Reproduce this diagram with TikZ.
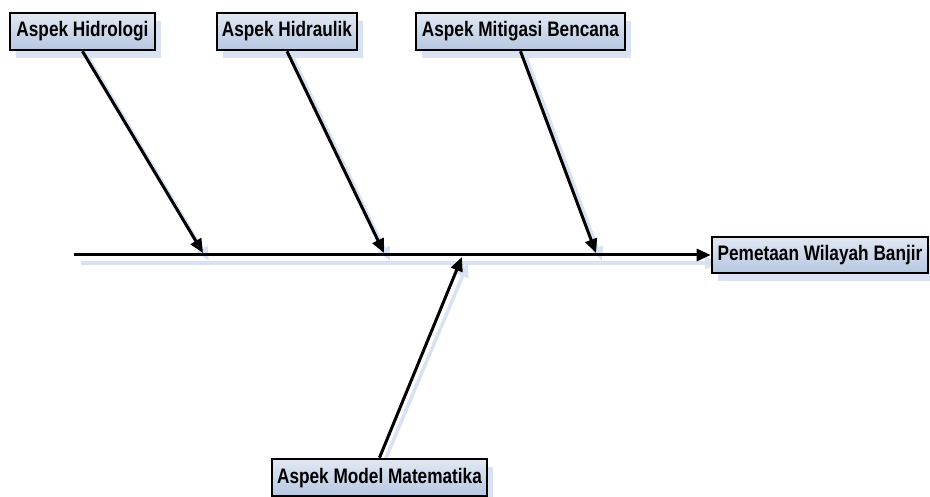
\documentclass[tikz,border=0pt]{standalone}
\usepackage{fontspec}
\newfontfamily\boxfont[FakeStretch=0.82]{Liberation Sans}
\usetikzlibrary{arrows.meta,shadows}
\definecolor{shadowblue}{HTML}{D8E2F2}
\definecolor{boxtop}{HTML}{E2E8F2}
\definecolor{boxbot}{HTML}{B6C7E1}
\tikzset{
  causebox/.style={draw=black, line width=2.6pt, top color=boxtop, bottom color=boxbot,
    minimum height=37pt, inner sep=0pt, text height=15pt, text depth=4pt,
    font=\boxfont\bfseries\fontsize{21pt}{23pt}\selectfont,
    drop shadow={shadow xshift=6pt, shadow yshift=-8pt, fill=shadowblue, opacity=1}},
  bone/.style={line width=3pt, black, -{Triangle[length=14pt,width=12pt]}},
  boneshadow/.style={line width=3.5pt, shadowblue, -{Triangle[length=14pt,width=12pt]}},
}
\begin{document}
\begin{tikzpicture}[x=1pt,y=-1pt]
\useasboundingbox (0,0) rectangle (930,497);
% coordinates on the spine
\coordinate (s) at (74,255);
\coordinate (e1) at (203,253);
\coordinate (e2) at (384,253);
\coordinate (e3) at (596,253);
\coordinate (e5) at (462,257);
% shadows of connectors
\draw[boneshadow] ([shift={(7,8)}]s) -- (719,263);
\draw[boneshadow] ([shift={(6,8)}]82.5,50) -- ([shift={(6,8)}]e1);
\draw[boneshadow] ([shift={(6,8)}]287,50) -- ([shift={(6,8)}]e2);
\draw[boneshadow] ([shift={(6,8)}]520.5,50) -- ([shift={(6,8)}]e3);
\draw[boneshadow] ([shift={(6,0)}]379.5,459) -- ([shift={(6,6)}]e5);
% boxes
\node[causebox, minimum width=145pt] (h1) at (82.5,31.5) {Aspek Hidrologi};
\node[causebox, minimum width=140pt] (h2) at (287,31.5) {Aspek Hidraulik};
\node[causebox, minimum width=209pt] (h3) at (520.5,31.5) {Aspek Mitigasi Bencana};
\node[causebox, minimum width=216pt, minimum height=36pt] (eff) at (820,255) {Pemetaan Wilayah Banjir};
\node[causebox, minimum width=215pt] (h5) at (379.5,477.5) {Aspek Model Matematika};
% connectors
\draw[bone] (s) -- (eff.west);
\draw[bone] (h1.south) -- (e1);
\draw[bone] (h2.south) -- (e2);
\draw[bone] (h3.south) -- (e3);
\draw[bone] (h5.north) -- (e5);
\end{tikzpicture}
\end{document}
